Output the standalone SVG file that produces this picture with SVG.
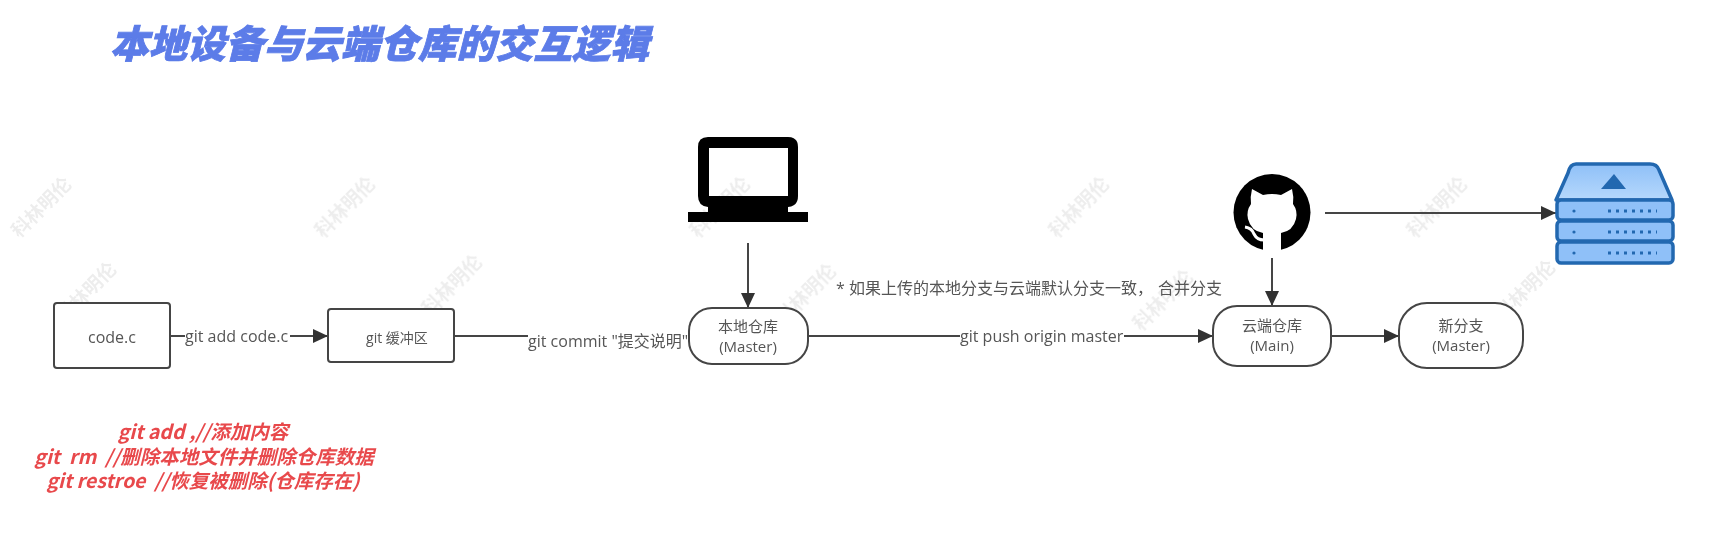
<svg xmlns="http://www.w3.org/2000/svg" width="1724" height="541" viewBox="0 0 1724 541">
<defs>
<style>
text{font-family:"Open Sans","Noto Sans CJK SC",sans-serif;fill:#555;font-size:15px;white-space:pre}
.c{text-anchor:middle}
.e{font-size:16px}
.n{fill:#fff;stroke:#444;stroke-width:2}
.l{fill:none;stroke:#444;stroke-width:2}
.a{marker-end:url(#ah)}
.t{font-family:"Noto Sans CJK SC",sans-serif;font-size:38.5px;font-weight:900;font-style:italic;fill:#5b7be8;stroke:#5b7be8;stroke-width:.8}
.r{font-family:"Noto Sans CJK SC",sans-serif;font-size:19.5px;font-weight:700;font-style:italic;fill:#e8484c;text-anchor:middle}
.w{font-family:"Noto Sans CJK SC",sans-serif;font-size:19px;font-weight:700;fill:#000;opacity:.07;text-anchor:middle}
.s{fill:#8fc0f8;stroke:#2468b0;stroke-width:3.5}
.top{fill:url(#g);stroke:#2468b0;stroke-width:3.5;stroke-linejoin:round}
.d{fill:#2468b0}
</style>
<linearGradient id="g" x1="0" y1="0" x2="0" y2="1"><stop offset="0" stop-color="#8fc0f8"/><stop offset="1" stop-color="#b6d8fc"/></linearGradient>
<marker id="ah" markerUnits="userSpaceOnUse" markerWidth="16" markerHeight="14" refX="15" refY="7" orient="auto"><path d="M0 0L15 7L0 14Z" fill="#333"/></marker>
<filter id="b" x="-5%" y="-5%" width="110%" height="110%"><feGaussianBlur stdDeviation="0.55"/></filter>
</defs>
<rect width="1724" height="541" fill="#fff"/>
<g filter="url(#b)">
<g id="watermarks">
<text class="w" transform="translate(46 212) rotate(-45)">科林明伦</text>
<text class="w" transform="translate(91 297) rotate(-45)">科林明伦</text>
<text class="w" transform="translate(350 212) rotate(-45)">科林明伦</text>
<text class="w" transform="translate(457 290) rotate(-45)">科林明伦</text>
<text class="w" transform="translate(725 212) rotate(-45)">科林明伦</text>
<text class="w" transform="translate(811 299) rotate(-45)">科林明伦</text>
<text class="w" transform="translate(1084 212) rotate(-45)">科林明伦</text>
<text class="w" transform="translate(1168 305) rotate(-45)">科林明伦</text>
<text class="w" transform="translate(1442 212) rotate(-45)">科林明伦</text>
<text class="w" transform="translate(1530 295) rotate(-45)">科林明伦</text>
</g>
<text id="title" class="t" x="110" y="58">本地设备与云端仓库的交互逻辑</text>
<g id="connectors">
<path class="l" d="M170 336H185"/>
<path class="l a" d="M290 336H328"/>
<path class="l" d="M454 336H528"/>
<path class="l a" d="M748 243V308"/>
<path class="l" d="M808 336H960"/>
<path class="l a" d="M1124 336H1213"/>
<path class="l a" d="M1272 258V306"/>
<path class="l a" d="M1331 336H1399"/>
<path class="l a" d="M1325 213H1556"/>
<text class="e" x="185" y="342">git add code.c</text>
<text class="e" x="528" y="347">git commit "提交说明"</text>
<text class="e" x="960" y="342">git push origin master</text>
<text class="e" x="836" y="294">* 如果上传的本地分支与云端默认分支一致，<tspan x="1158">合并分支</tspan></text>
</g>
<g id="code"><rect class="n" x="54" y="303" width="116" height="65" rx="3"/><text class="c e" x="112" y="343">code.c</text></g>
<g id="buffer"><rect class="n" x="328" y="309" width="126" height="53" rx="3"/><text class="c" x="397" y="343" style="font-size:14px">git 缓冲区</text></g>
<g id="local"><rect class="n" x="689" y="308" width="119" height="56" rx="23"/><text class="c" x="748" y="332">本地仓库</text><text class="c" x="748" y="352">(Master)</text></g>
<g id="cloud"><rect class="n" x="1213" y="306" width="118" height="60" rx="24"/><text class="c" x="1272" y="331">云端仓库</text><text class="c" x="1272" y="351">(Main)</text></g>
<g id="branch"><rect class="n" x="1399" y="303" width="124" height="65" rx="28"/><text class="c" x="1461" y="331">新分支</text><text class="c" x="1461" y="351">(Master)</text></g>
<g id="laptop">
<path fill="#000" fill-rule="evenodd" d="M708 137H788Q798 137 798 147V196Q798 206 788 207V212H808V222H688V212H708V207Q698 206 698 196V147Q698 137 708 137ZM709 148V196H788V148Z"/>
</g>
<g id="github">
<circle cx="1272" cy="212.5" r="38.5" fill="#000"/>
<path fill="#fff" d="M1252 189L1263 195Q1272 193 1281 195L1292 189Q1294 197 1293 204Q1298 211 1296 219Q1293 231 1281 233V252H1263V233Q1251 231 1248 219Q1246 211 1251 204Q1250 197 1252 189Z"/>
<path fill="none" stroke="#fff" stroke-width="3" d="M1245 227Q1252 228 1254 234Q1257 240 1264 240"/>
</g>
<g id="server">
<path class="top" d="M1576 164H1650Q1657 164 1659 170L1672 200H1556L1568 173Q1570 164 1576 164Z"/>
<path d="M1614 174L1626 189H1601Z" class="d"/>
<rect class="s" x="1557" y="200" width="116" height="20" rx="4"/>
<rect class="s" x="1557" y="221" width="116" height="20" rx="4"/>
<rect class="s" x="1557" y="242" width="116" height="21" rx="4"/>
<g class="d">
<circle cx="1574" cy="211" r="1.6"/><circle cx="1574" cy="232" r="1.6"/><circle cx="1574" cy="253" r="1.6"/>
<path stroke="#2468b0" stroke-width="3" stroke-dasharray="3 5" d="M1608 211H1657M1608 232H1657M1608 253H1657"/>
</g>
</g>
<g id="notes">
<text class="r" x="203" y="439">git add ,//添加内容</text>
<text class="r" x="204" y="464">git  rm  //删除本地文件并删除仓库数据</text>
<text class="r" x="203" y="488">git restroe  //恢复被删除(仓库存在)</text>
</g>
</g>
</svg>
